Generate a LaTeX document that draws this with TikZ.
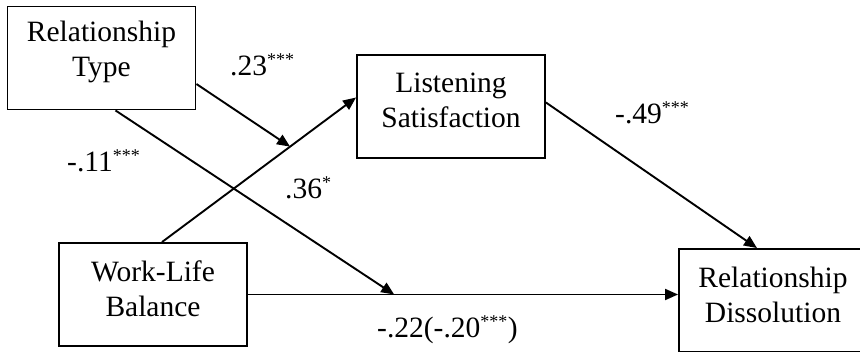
\documentclass[tikz,border=0pt]{standalone}
\usepackage{fontspec}
\setmainfont{Liberation Serif}
\usetikzlibrary{arrows.meta,calc}
\tikzset{
  var/.style  ={draw, line width=1.9pt, minimum width=188pt,
                minimum height=103pt, inner sep=0pt},
  vtxt/.style ={align=center, yshift=6pt},
  fl/.style   ={-{Triangle[length=13pt,width=11pt]}, line width=1.9pt},
  coef/.style ={anchor=base west, inner sep=0pt},
}
\newcommand{\sig}[1]{\textsuperscript{\fontsize{18}{18}\selectfont#1}}

\begin{document}
\begin{tikzpicture}[x=1pt, y=-1pt, font=\fontsize{29.5}{35}\selectfont]
  \useasboundingbox[fill=white] (0,0) rectangle (860,351);

  % the four variables
  \node[var, label={[vtxt]center:Relationship\\Type}] (rt) at (101.5,58) {};
  \node[var, label={[vtxt]center:Listening\\Satisfaction}] (ls) at (451,106.5) {};
  \node[var, label={[vtxt]center:Work-Life\\Balance}] (wlb) at (153,294.5) {};
  \node[var, label={[vtxt]center:Relationship\\Dissolution}] (rd) at (773,300.5) {};

  % moderation points on the two paths
  \coordinate (m1) at ($([xshift=9pt]wlb.north)!0.66!([yshift=9pt]ls.west)$);
  \coordinate (m2) at ($(wlb.east)!0.34!(wlb.east -| rd.west)$);

  \draw[fl] ([xshift=9pt]wlb.north) -- ([yshift=9pt]ls.west);
  \draw[fl] (wlb.east) -- (wlb.east -| rd.west);
  \draw[fl] ([yshift=4pt]ls.east) -- ([xshift=-16pt]rd.north);
  \draw[fl] ([yshift=-26pt]rt.east) -- (m1);
  \draw[fl] ([xshift=14pt]rt.south) -- (m2);

  % path coefficients
  \node[coef] (c23) at (230,75)  {.23\sig{***}};
  \node[coef] (c11) at (67,171)  {-.11\sig{***}};
  \node[coef] (c36) at (285,198) {.36\sig{*}};
  \node[coef] (c49) at (615,123) {-.49\sig{***}};
  \node[coef] (c22) at (377,337) {-.22(-.20\sig{***})};
\end{tikzpicture}
\end{document}
